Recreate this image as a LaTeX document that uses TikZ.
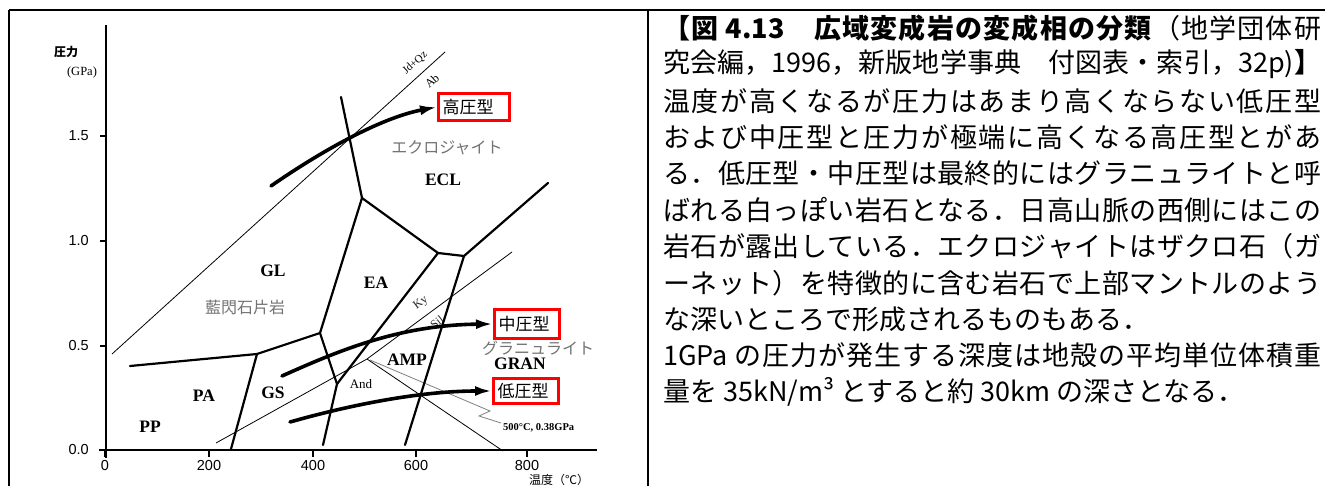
\documentclass[tikz,border=0pt]{standalone}
\usepackage{fontspec}
\setmainfont{Liberation Serif}
\newfontfamily\jp{Noto Sans CJK JP}
\newfontfamily\lsans{Liberation Sans}
\usetikzlibrary{arrows.meta}
\def\jfirst#1{#1\jnext}
\def\jnext#1{\ifx\relax#1\else\hfil#1\expandafter\jnext\fi}
\newcommand\jline[1]{\hbox to 658pt{\jfirst #1\relax}}
\tikzset{
 bnd/.style={line width=2.2pt, line cap=round, line join=round},
 thinl/.style={line width=0.8pt},
 leader/.style={line width=0.8pt, black!50},
 axisl/.style={line width=1.4pt},
 ptarrow/.style={line width=3.6pt, line cap=round, -{Latex[length=17pt,width=10pt]}},
 rbox/.style={draw=red, line width=3pt, inner xsep=4pt, inner ysep=0pt, align=left, font=\jp\fontsize{17}{19}\selectfont},
 facies/.style={font=\fontsize{17.5}{20}\selectfont\bfseries, inner sep=0pt},
 jgray/.style={font=\jp\fontsize{16}{18}\selectfont, text=black!55, inner sep=0pt},
 ticklab/.style={font=\lsans\fontsize{14.5}{16}\selectfont, inner sep=0pt},
 mlab/.style={font=\fontsize{12}{14}\selectfont, inner sep=0pt},
 body/.style={font=\jp\fontsize{27}{30}\selectfont, inner sep=0pt, anchor=west},
}
\begin{document}
\begin{tikzpicture}[x=1pt,y=-1pt]
\useasboundingbox (0,0) rectangle (1325,486);
\fill[white] (0,0) rectangle (1325,486);
% frame
\coordinate (f1) at (9,10); \coordinate (f2) at (1325,10);
\coordinate (f3) at (9,486); \coordinate (f4) at (648,10); \coordinate (f5) at (648,486);
\draw[line width=1.3pt] (f1) -- (f2);
\draw[line width=2pt] (f1) -- (f3);
\draw[line width=2pt] (f4) -- (f5);
% axes
\coordinate (yt) at (106,25); \coordinate (yb) at (106,458);
\coordinate (xl) at (99,450); \coordinate (xr) at (597,450);
\draw[axisl] (yt) -- (yb);
\draw[axisl] (xl) -- (xr);
\foreach \yy/\lab in {136/1.5,241/1.0,346/0.5,450/0.0}{
  \draw[axisl] (100,\yy) -- (106,\yy);
  \node[ticklab, anchor=east] at (89,\yy) {\lab};
}
\foreach \xx/\lab in {105/0,209/200,313/400,416/600,527/800}{
  \draw[axisl] (\xx,450) -- (\xx,457);
  \node[ticklab] at (\xx,466) {\lab};
}
\node[font=\jp\fontsize{12}{14}\selectfont\bfseries, inner sep=0pt] (ylab) at (66,52) {圧力};
\node[font=\fontsize{12.5}{14}\selectfont, inner sep=0pt] (yunit) at (82,72) {(GPa)};
\node[font=\jp\fontsize{12}{14}\selectfont, inner sep=0pt, anchor=north] (xlab) at (559,474) {温度（℃）};
% reaction line Jd+Qz = Ab
\coordinate (jq1) at (112,354); \coordinate (jq2) at (445,52);
\draw[thinl] (jq1) -- (jq2);
\node[mlab, font=\fontsize{11}{13}\selectfont, rotate=42] (jdqz) at (415,63) {Jd+Qz};
\node[mlab, rotate=42] (ab) at (432,81) {Ab};
% Al2SiO5 lines
\coordinate (TP) at (367,359);
\coordinate (ka) at (216,443); \coordinate (ks) at (512,252); \coordinate (as) at (503,451);
\draw[thinl] (ka) -- (TP) -- (ks);
\draw[thinl] (TP) -- (as);
\node[mlab, rotate=37, text=black!85] (ky) at (421,303) {Ky};
\node[mlab, rotate=37, text=black!85] (sil) at (437,322) {Sil};
\coordinate (l0) at (370,360); \coordinate (l1) at (490,411);
\coordinate (l2) at (479,416); \coordinate (l3) at (501,423);
\draw[leader] (l0) -- (l1) -- (l2) -- (l3);
\node[font=\fontsize{10.5}{12}\selectfont\bfseries, inner sep=0pt, anchor=west] (tpl) at (503,428) {500°C, 0.38GPa};
% facies boundaries
\coordinate (ge1) at (341,97);
\coordinate (J1) at (362,198);
\coordinate (J2) at (438,253);
\coordinate (J3) at (320,333);
\coordinate (J4) at (464,256);
\coordinate (J5) at (337,384);
\coordinate (J6) at (257,354);
\coordinate (e1) at (548,183);
\coordinate (e2) at (405,445);
\coordinate (e3) at (323,445);
\coordinate (e4) at (130,366);
\coordinate (e5) at (231,449);
\draw[bnd] (ge1) -- (J1) -- (J2) -- (J4) -- (e1);
\draw[bnd] (J1) -- (J3) -- (J5) -- (e3);
\draw[bnd] (J2) -- (J5);
\draw[bnd] (J4) -- (e2);
\draw[bnd] (J3) -- (J6) -- (e4);
\draw[bnd] (J6) -- (e5);
% facies labels
\node[facies] (gl) at (273,271) {GL};
\node[facies] (ea) at (376,283) {EA};
\node[facies] (ecl) at (443,180) {ECL};
\node[facies] (amp) at (407,360) {AMP};
\node[facies] (gran) at (520,364) {GRAN};
\node[facies] (pa) at (204,396) {PA};
\node[facies] (gs) at (273,393) {GS};
\node[facies] (pp) at (150,427) {PP};
\node[mlab, font=\fontsize{13}{15}\selectfont] (and) at (361,384) {And};
\node[jgray] (glj) at (245,307) {藍閃石片岩};
\node[jgray] (eclj) at (447,148) {エクロジャイト};
\node[jgray] (granj) at (538,348) {グラニュライト};
% red boxes
\node[rbox, text width=63pt, minimum height=27pt] (hp) at (474,107) {高圧型};
\node[rbox, text width=57pt, minimum height=28pt] (mp) at (527,324) {中圧型};
\node[rbox, text width=57pt, minimum height=25pt] (lp) at (526,391) {低圧型};
% P-T paths
\coordinate (a1) at (271,186);
\coordinate (a2) at (282,376);
\coordinate (a3) at (290,422);
\draw[ptarrow] (a1) .. controls (320,152) and (380,118) .. (hp.west);
\draw[ptarrow] (a2) .. controls (340,350) and (400,325) .. (mp.west);
\draw[ptarrow] (a3) .. controls (350,405) and (420,391) .. (lp.west);
% body text
\node[body] (t1) at (663,28) {\hbox to 658pt{{\bfseries\jfirst 【図{\ 4.13}　広域変成岩の変成相の分類\relax}\hfil\jfirst （地学団体研\relax}};
\node[body] (t2) at (663,64.4) {\jline{究会編，{1996}，新版地学事典　付図表・索引，{32p)}{\bfseries 】}}};
\node[body] (t3) at (663,100.8) {\jline{温度が高くなるが圧力はあまり高くならない低圧型}};
\node[body] (t4) at (663,137.2) {\jline{および中圧型と圧力が極端に高くなる高圧型とがあ}};
\node[body] (t5) at (663,173.6) {\jline{る．低圧型・中圧型は最終的にはグラニュライトと呼}};
\node[body] (t6) at (663,210) {\jline{ばれる白っぽい岩石となる．日高山脈の西側にはこの}};
\node[body] (t7) at (663,246.4) {\jline{岩石が露出している．エクロジャイトはザクロ石（ガ}};
\node[body] (t8) at (663,282.8) {\jline{ーネット）を特徴的に含む岩石で上部マントルのよう}};
\node[body] (t9) at (663,319.2) {な深いところで形成されるものもある．};
\node[body] (t10) at (663,355.6) {\jline{{1GPa\ }の圧力が発生する深度は地殻の平均単位体積重}};
\node[body] (t11) at (663,392) {量を 35kN/m³ とすると約 30km の深さとなる．};
\end{tikzpicture}
\end{document}
